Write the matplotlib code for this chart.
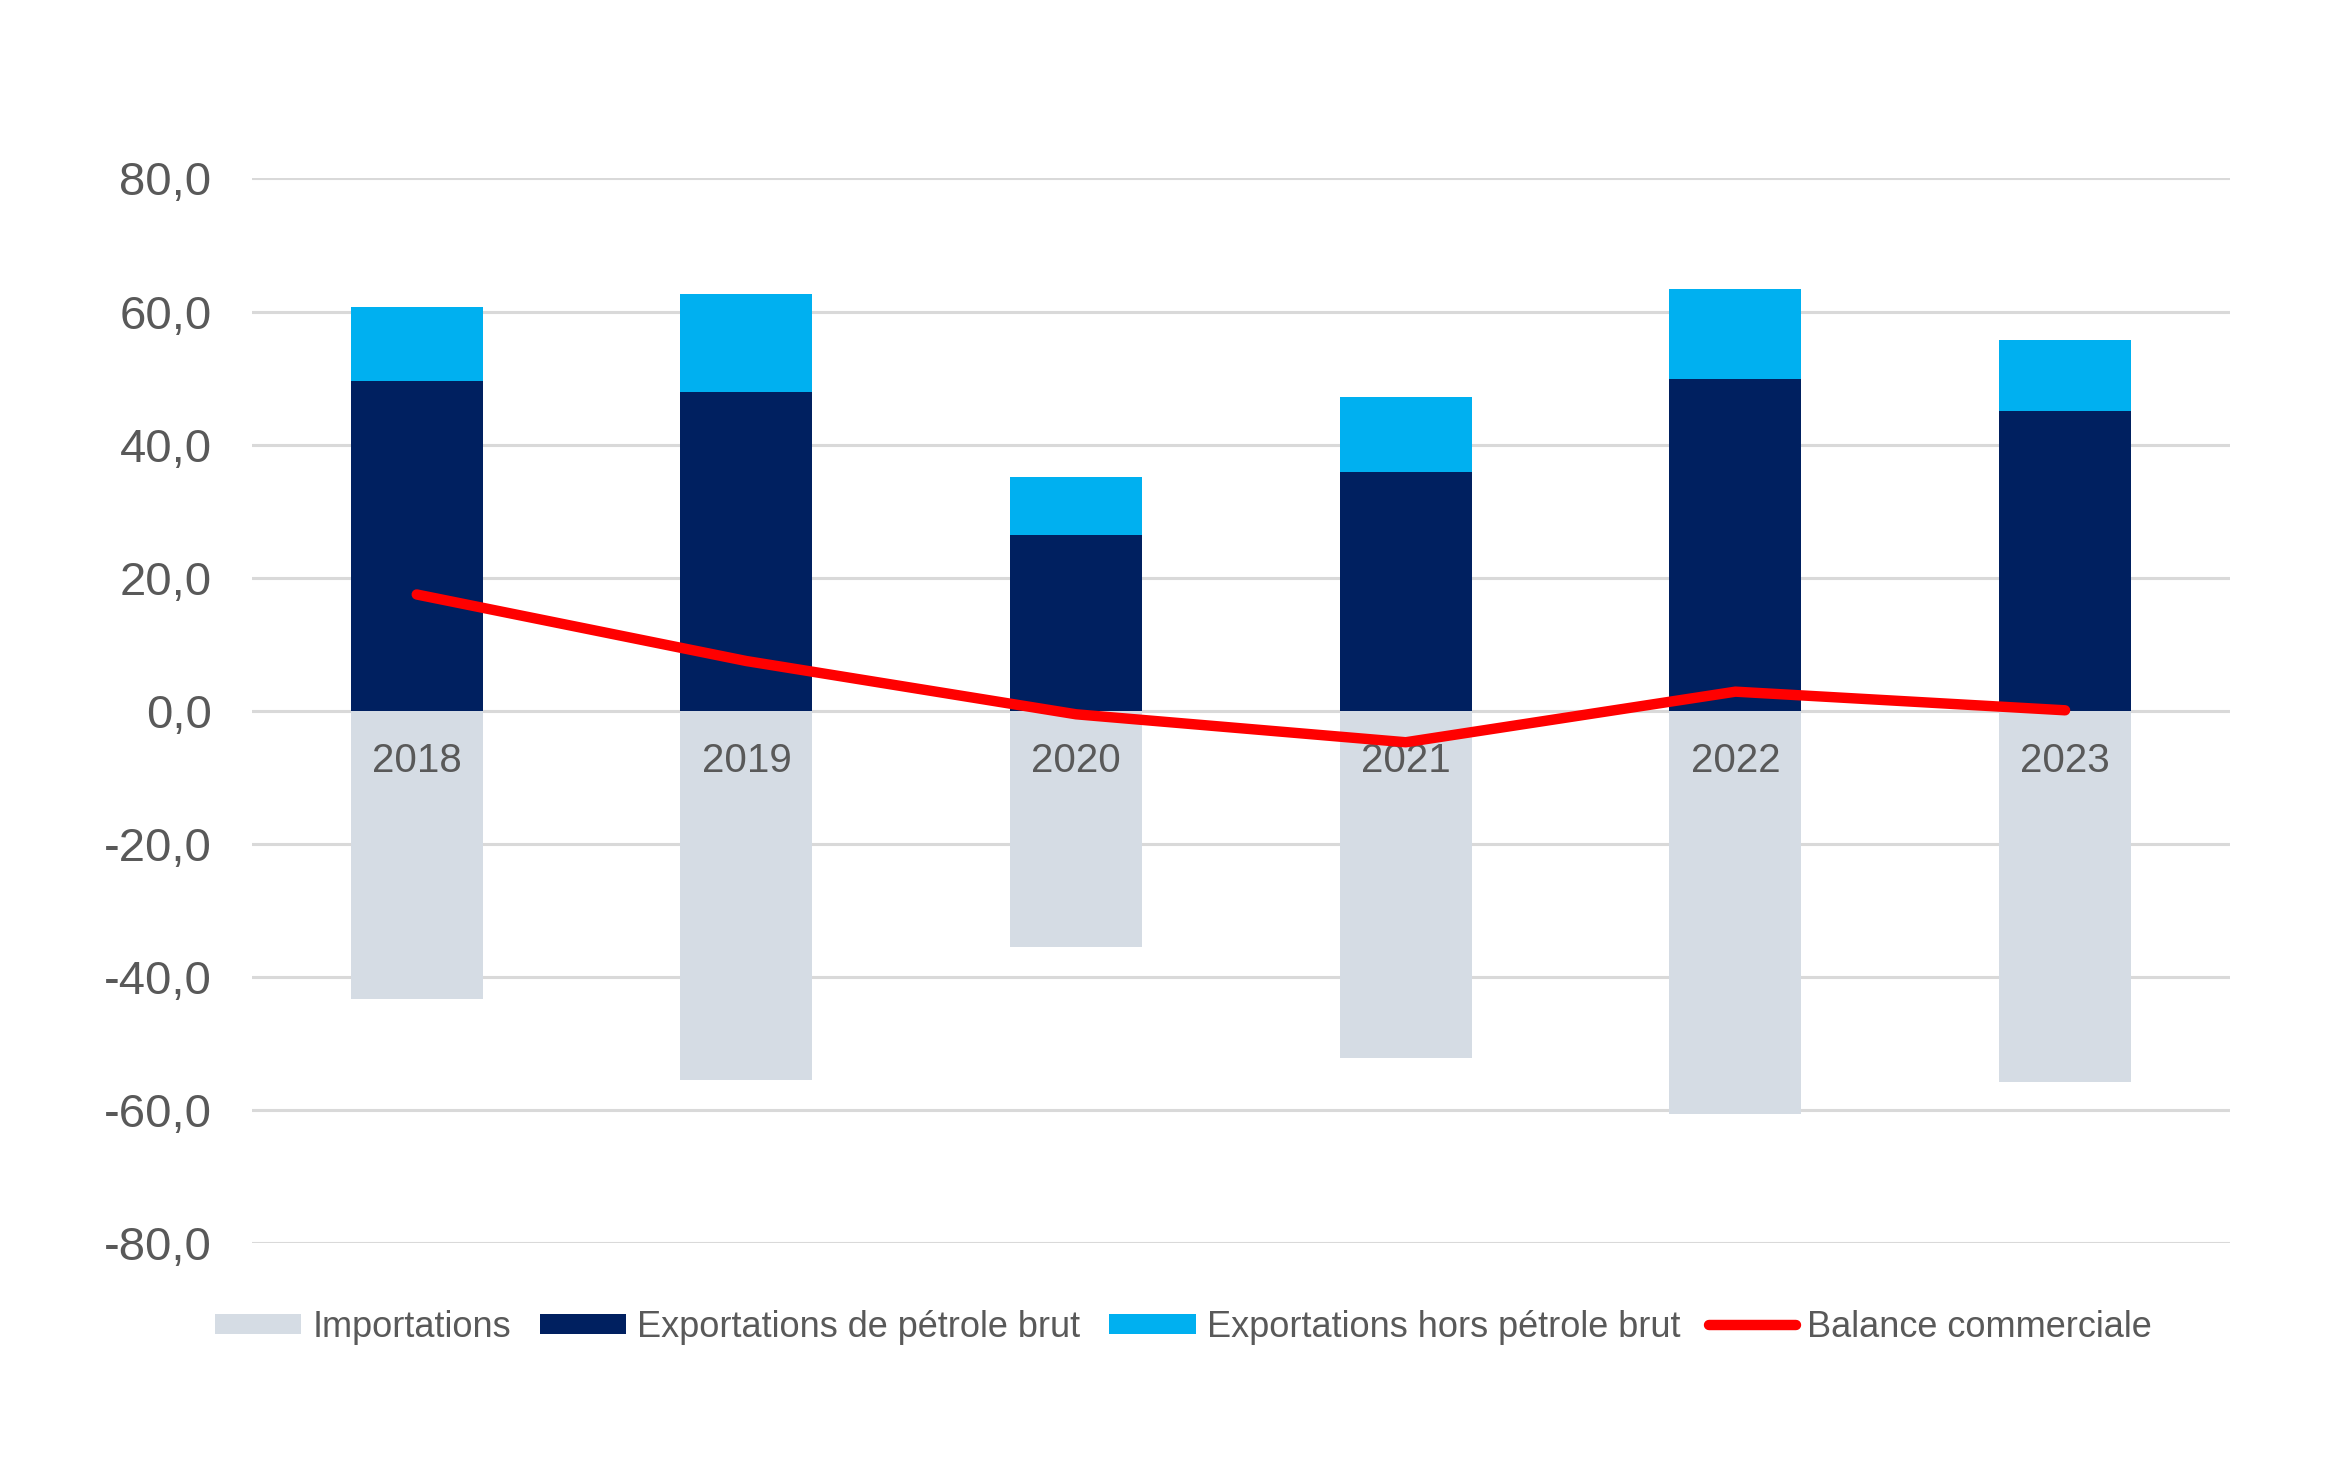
import numpy as np
import matplotlib
matplotlib.use("Agg")
import matplotlib.pyplot as plt
from matplotlib.ticker import FuncFormatter

plt.rcParams['font.family'] = ['Liberation Sans', 'DejaVu Sans']

# données (milliards)
years = ["2018", "2019", "2020", "2021", "2022", "2023"]
importations = [-43.2, -55.4, -35.5, -52.2, -60.5, -55.7]
export_brut = [49.5, 47.9, 26.4, 35.9, 49.9, 45.0]
export_hors_brut = [11.2, 14.8, 8.7, 11.3, 13.5, 10.8]
balance = [17.5, 7.5, -0.5, -4.7, 2.9, 0.1]

c_imp = "#D5DCE4"
c_brut = "#002060"
c_hors = "#00B0F0"
c_bal = "#FF0000"
c_text = "#595959"

fig = plt.figure(figsize=(23.52, 14.7), dpi=100)
ax = fig.add_axes([0.1071, 0.1541, 0.8410, 0.7245])

x = np.arange(len(years))
w = 0.40

b1 = ax.bar(x, importations, w, color=c_imp, label="Importations", zorder=2)
b2 = ax.bar(x, export_brut, w, color=c_brut, label="Exportations de pétrole brut", zorder=2)
b3 = ax.bar(x, export_hors_brut, w, bottom=export_brut, color=c_hors,
            label="Exportations hors pétrole brut", zorder=2)
l1, = ax.plot(x, balance, color=c_bal, linewidth=7.5, solid_capstyle='round',
              solid_joinstyle='round', label="Balance commerciale", zorder=4)

ax.set_xlim(-0.5, len(years) - 0.5)
ax.set_ylim(-80, 80)
ax.set_yticks(np.arange(-80, 81, 20))
ax.yaxis.set_major_formatter(FuncFormatter(lambda v, p: f"{v:.1f}".replace(".", ",")))

for s in ['top', 'right', 'left', 'bottom']:
    ax.spines[s].set_visible(False)
ax.set_xticks([])
ax.tick_params(axis='y', length=0, pad=29, labelsize=34, labelcolor=c_text)

# étiquettes des années sous la ligne du zéro, par-dessus les barres
for xi, yr in zip(x, years):
    ax.annotate(yr, (xi, 0), xytext=(0, -22), textcoords='offset points',
                ha='center', va='top', fontsize=29, color=c_text, zorder=3)

ax.yaxis.grid(True, color="#D9D9D9", linewidth=2.2, zorder=0)
ax.set_axisbelow(True)

fig.legend([b1, b2, b3, l1],
           ["Importations", "Exportations de pétrole brut",
            "Exportations hors pétrole brut", "Balance commerciale"],
           loc='center', bbox_to_anchor=(0.503, 0.097), ncol=4, frameon=False,
           fontsize=26, labelcolor=c_text, handlelength=2.4, handleheight=0.5,
           handletextpad=0.3, columnspacing=0.8)

fig.savefig("out.png", dpi=100)
